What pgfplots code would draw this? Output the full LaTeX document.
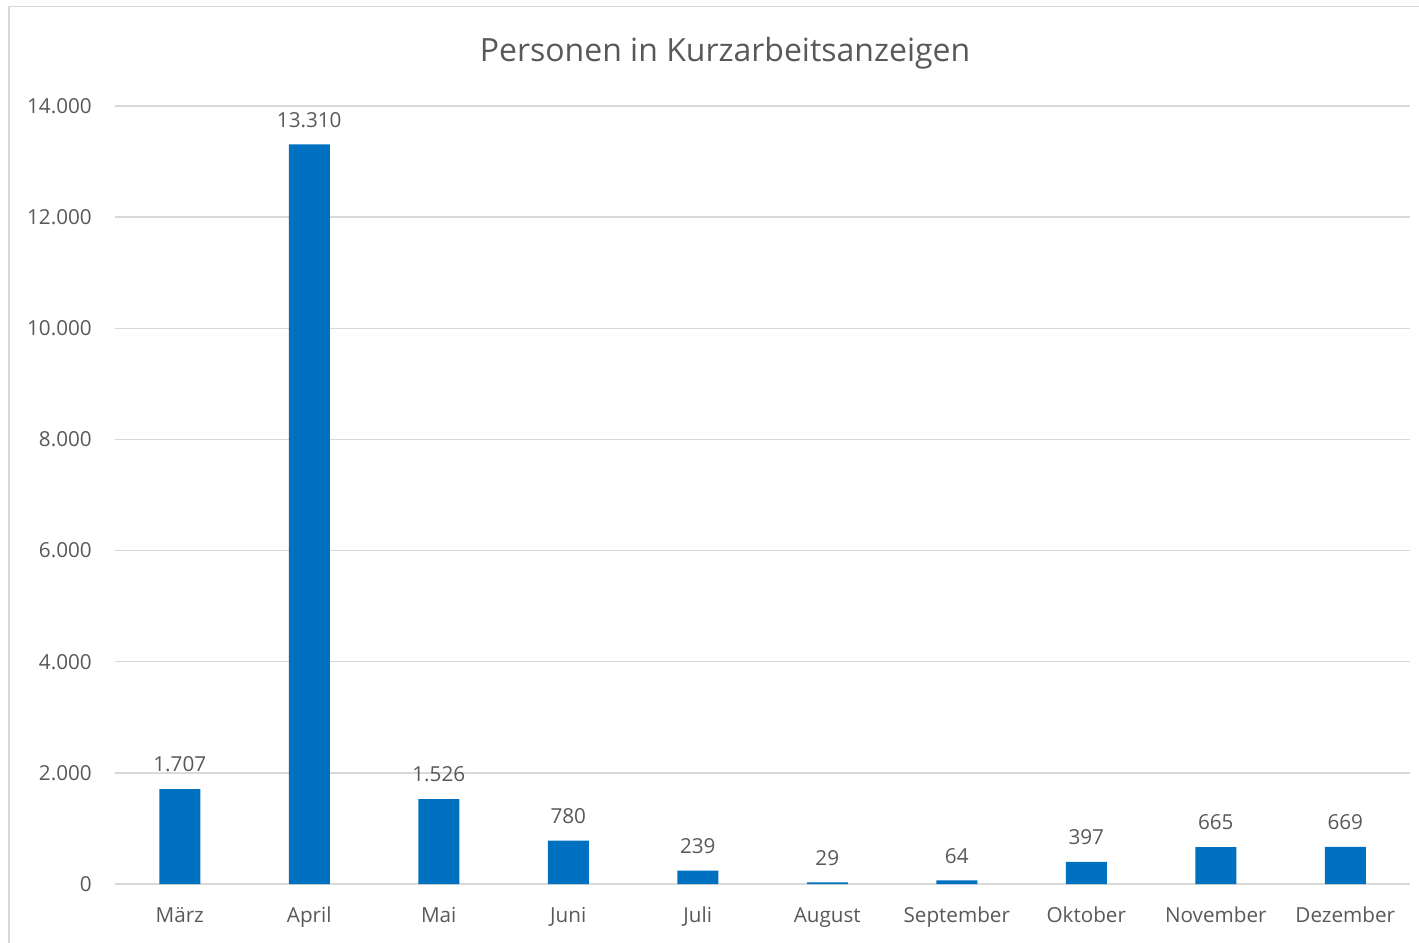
\documentclass[border=0pt]{standalone}
\usepackage{pgfplots}
\pgfplotsset{compat=1.18}
\usepackage{fontspec}
\setmainfont{Open Sans}
\definecolor{barc}{HTML}{0070C0}
\definecolor{txt}{HTML}{595959}
\definecolor{gridc}{HTML}{D9D9D9}
\begin{document}
\begin{tikzpicture}[x=0.75pt,y=-0.75pt]
\useasboundingbox (0,0) rectangle (1419,942);
\draw[gridc, line width=1.2pt] (9,950) -- (9,6.5) -- (1430,6.5);
\begin{axis}[
  at={(86.25pt,-663pt)}, anchor=south west,
  scale only axis, width=971.25pt, height=583.5pt,
  xmin=-0.5, xmax=9.5, ymin=0, ymax=14000,
  ytick={0,2000,4000,6000,8000,10000,12000,14000},
  xtick=data,
  xticklabels={März,April,Mai,Juni,Juli,August,September,Oktober,November,Dezember},
  ybar, bar width=30.75pt,
  axis line style={draw=none},
  major tick length=0pt,
  ymajorgrids,
  major grid style={gridc, line width=1.1pt},
  /pgf/number format/.cd, 1000 sep={.}, assume math mode=true, /pgfplots/.cd,
  tick label style={font=\fontsize{15.5}{18}\selectfont, text=txt},
  yticklabel style={anchor=east, inner sep=0pt, xshift=-17.25pt},
  xticklabel style={anchor=base, inner sep=0pt, yshift=-28.5pt},
  nodes near coords,
  nodes near coords style={font=\fontsize{15.5}{18}\selectfont, text=txt, anchor=base, inner sep=0pt, yshift=13pt},
  scaled y ticks=false,
]
\addplot[fill=barc, draw=none] coordinates {
  (0,1707) (1,13310) (2,1526) (3,780) (4,239) (5,29) (6,64) (7,397) (8,665) (9,669)
};
\end{axis}
\node[txt, font=\fontsize{24}{28}\selectfont] at (725,53) {Personen in Kurzarbeitsanzeigen};
\end{tikzpicture}
\end{document}
